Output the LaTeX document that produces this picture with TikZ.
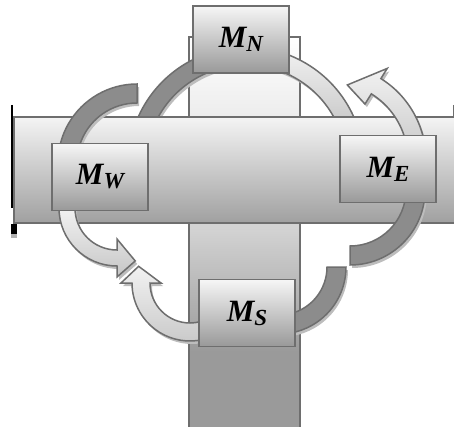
\documentclass[tikz,border=0pt]{standalone}
\usepackage{fontspec}
\setmainfont{Liberation Serif}
\usetikzlibrary{positioning}

\definecolor{EdgeGray}{HTML}{6E6E6E}
\definecolor{ArcGray}{HTML}{8C8C8C}
\definecolor{ShadowGray}{HTML}{BDBDBD}
\definecolor{ArrowTop}{HTML}{F2F2F2}
\definecolor{ArrowBottom}{HTML}{C6C6C6}
\definecolor{BoxTop}{HTML}{F6F6F6}
\definecolor{BoxBottom}{HTML}{999999}
\definecolor{BarTop}{HTML}{F4F4F4}
\definecolor{BarBottom}{HTML}{A0A0A0}
\definecolor{PostDark}{HTML}{9A9A9A}
\definecolor{PostMid}{HTML}{D2D2D2}

\pgfdeclareverticalshading{postshade}{100bp}{color(0bp)=(PostDark); color(36bp)=(PostDark); color(51bp)=(PostMid); color(75bp)=(white); color(100bp)=(white)}

% block arc: start angle, end angle, inner radius, outer radius
\newcommand{\band}[4]{(#1:#4) arc[start angle=#1, end angle=#2, radius=#4] -- (#2:#3) arc[start angle=#2, end angle=#1, radius=#3] -- cycle}
% block arc with head: tail, base, tip angle, inner, outer, tip radius, barb
\newcommand{\bandarrow}[7]{(#1:#5) arc[start angle=#1, end angle=#2, radius=#5] -- ({#2}:{#5+#7}) -- ({#3}:{#6}) -- ({#2}:{#4-#7}) -- (#2:#4) arc[start angle=#2, end angle=#1, radius=#4] -- cycle}
\newcommand{\msub}[1]{M\raisebox{-4pt}{\fontsize{23}{23}\selectfont #1}\hspace{9pt}}

\begin{document}
\begin{tikzpicture}[x=1pt, y=1pt,
  edge/.style={draw=EdgeGray, line width=1.5},
  darkarc/.style={edge, fill=ArcGray},
  lightarc/.style={edge, top color=ArrowTop, bottom color=ArrowBottom},
  dropshadow/.style={fill=ShadowGray, shift={(2,-3)}},
  mbox/.style={edge, top color=BoxTop, bottom color=BoxBottom, minimum width=96, minimum height=67, inner sep=0, font=\fontsize{31}{31}\selectfont\bfseries\itshape}]
  \useasboundingbox (0,0) rectangle (454,-427);
  \clip (0,0) rectangle (454,-427);
  % Vertical post
  \draw[edge, shade, shading=postshade] (189,-37) rectangle (300,-440);
  % Arch under M_N
  \begin{scope}[shift={(246,-165)}]
    \fill[dropshadow] \band{160}{90}{100}{118};
    \fill[dropshadow] \band{90}{20}{100}{118};
    \draw[darkarc] \band{160}{90}{100}{118};
    \draw[lightarc] \band{90}{20}{100}{118};
  \end{scope}
  % Horizontal beam
  \draw[edge, top color=BarTop, bottom color=BarBottom] (14,-117) rectangle (470,-223);
  \draw[black, line width=1.2] (12,-105) -- (12,-208);
  \fill[black] (11.4,-224) rectangle (17,-234);
  \fill[gray!60] (11.4,-234) rectangle (17,-238);
  \draw[EdgeGray, line width=1] (453.5,-105) -- (453.5,-117);
  % Top-left arc
  \begin{scope}[shift={(137,-163)}]
    \fill[dropshadow] \band{90}{185}{60}{79};
    \draw[darkarc] \band{90}{185}{60}{79};
  \end{scope}
  % Top-right arrow
  \begin{scope}[shift={(330,-160)}]
    \fill[dropshadow] \bandarrow{0}{58}{77}{78}{96}{77}{12};
    \draw[lightarc] \bandarrow{0}{58}{77}{78}{96}{77}{12};
  \end{scope}
  % Arcs below M_E
  \begin{scope}[shift={(350,-190)}]
    \fill[dropshadow] \band{0}{-90}{56}{75};
    \draw[darkarc] \band{0}{-90}{56}{75};
  \end{scope}
  \begin{scope}[shift={(279,-267)}]
    \fill[dropshadow] \band{0}{-100}{48}{67};
    \draw[darkarc] \band{0}{-100}{48}{67};
  \end{scope}
  % Arrows meeting at lower left
  \begin{scope}[shift={(190,-283)}]
    \fill[dropshadow] \bandarrow{-60}{-180}{-198}{40}{58}{54}{11};
    \draw[lightarc] \bandarrow{-60}{-180}{-198}{40}{58}{54}{11};
  \end{scope}
  \begin{scope}[shift={(117,-208)}]
    \fill[dropshadow] \bandarrow{180}{270}{289}{42}{58}{56}{11};
    \draw[lightarc] \bandarrow{180}{270}{289}{42}{58}{56}{11};
  \end{scope}
  % Modules
  \node[mbox] (mn) at (241,-39.5) {\msub{N}};
  \node[mbox] (mw) at (100,-177) {\msub{W}};
  \node[mbox] (me) at (388,-169) {\msub{E}};
  \node[mbox] (ms) at (247,-313) {\msub{S}};
\end{tikzpicture}
\end{document}
